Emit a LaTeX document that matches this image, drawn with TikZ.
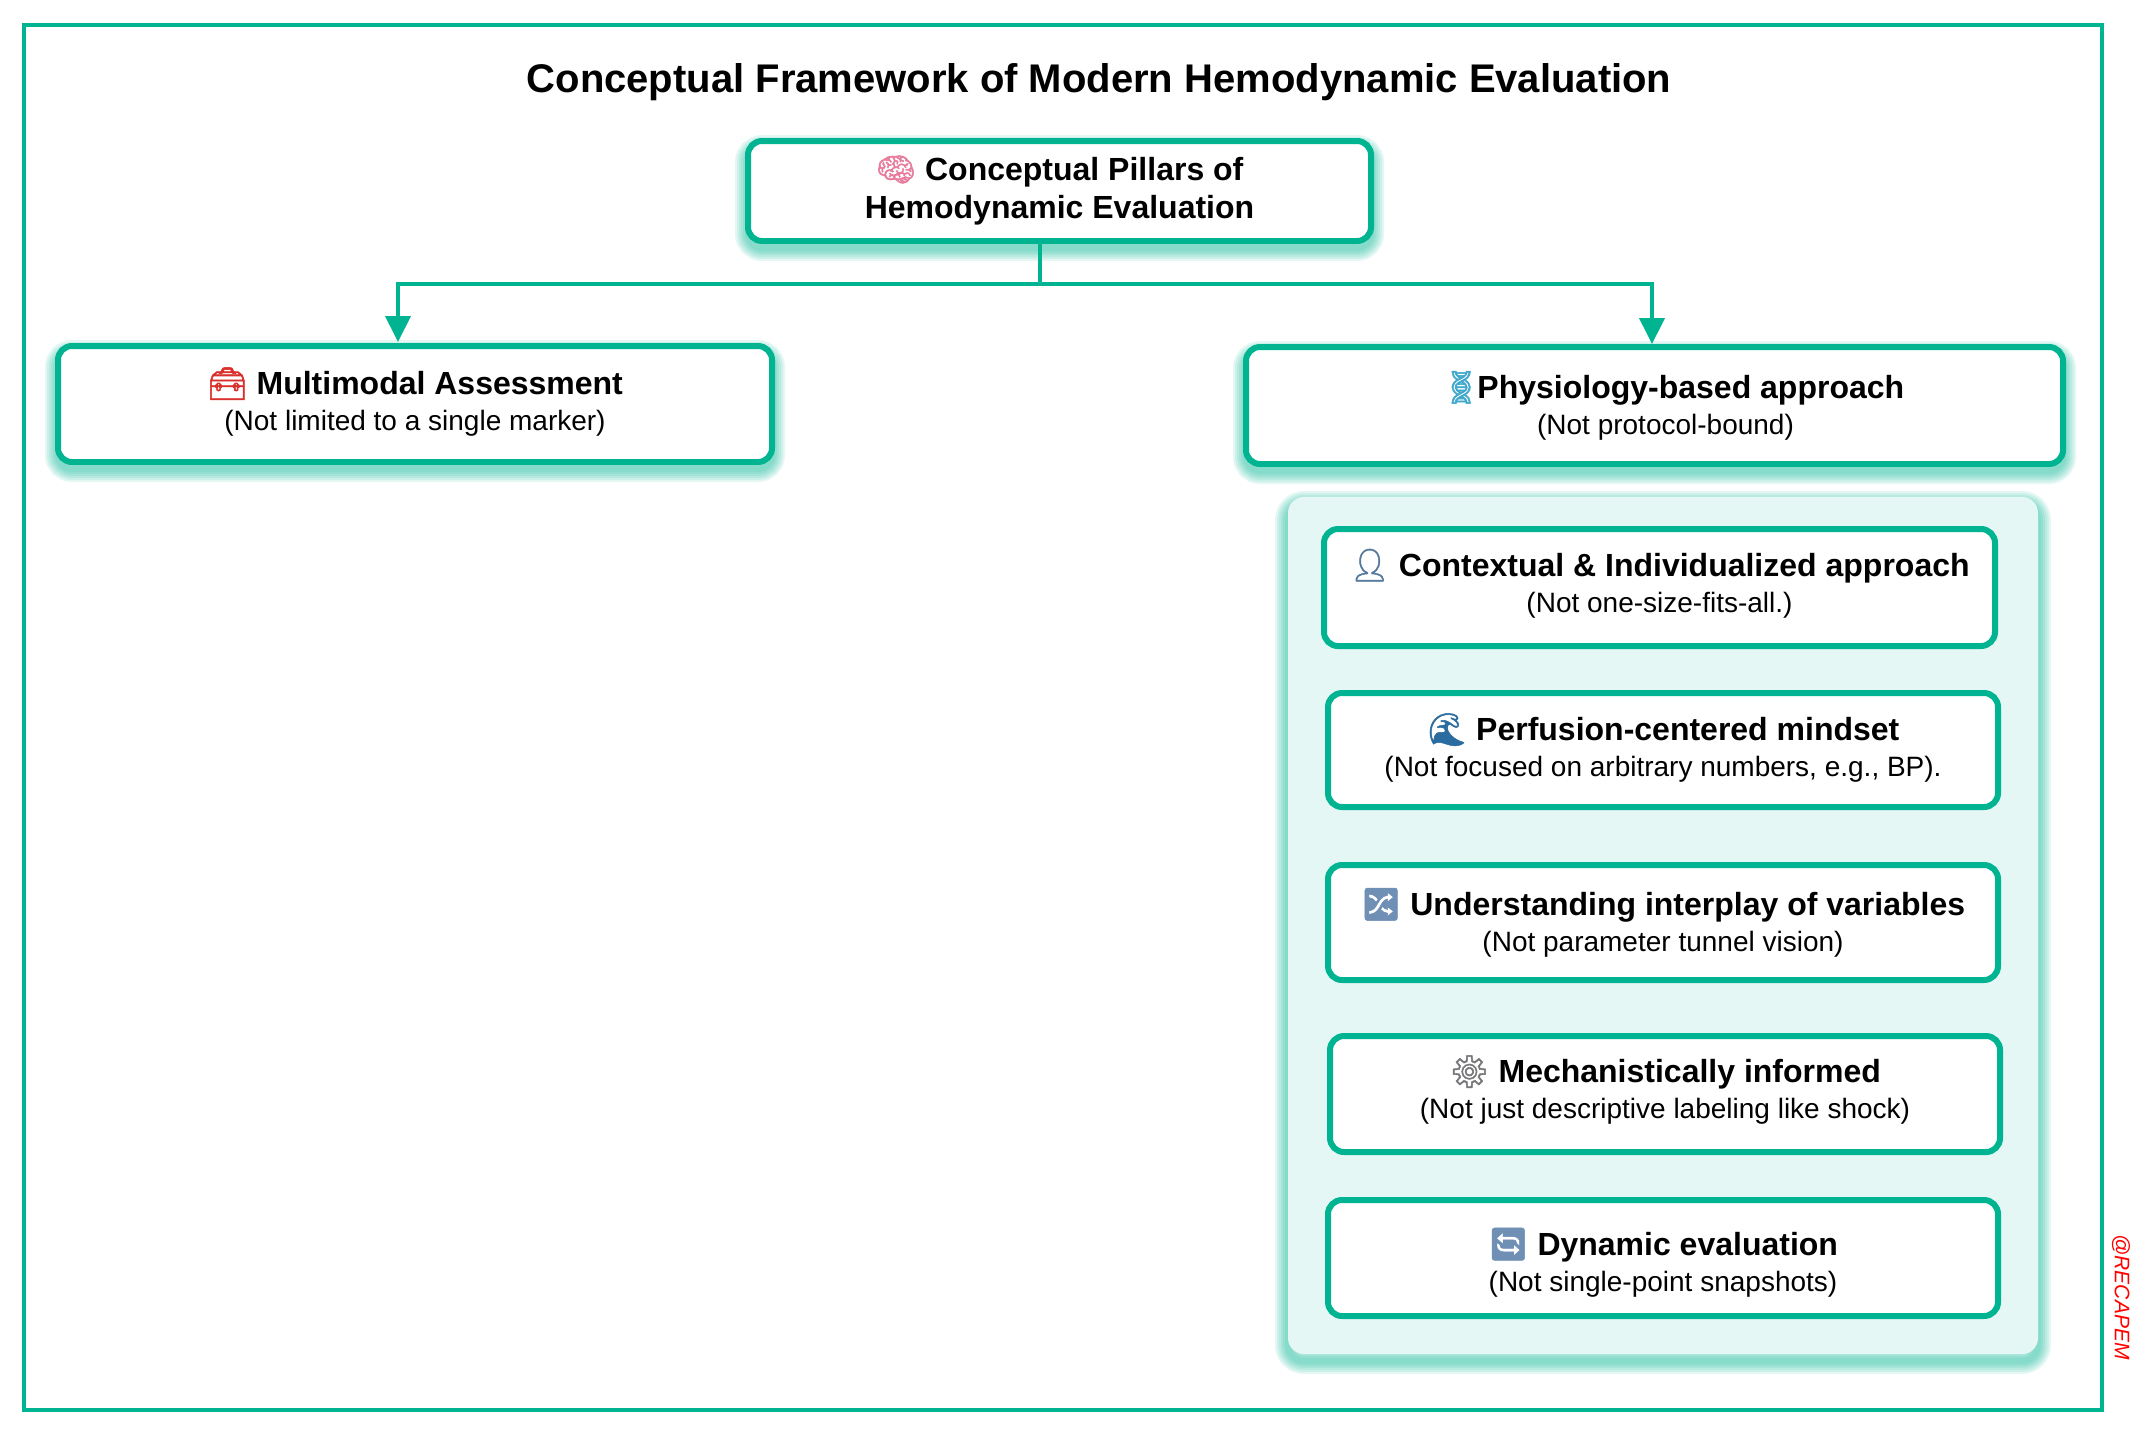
\documentclass[tikz,border=0pt]{standalone}
\usepackage{fontspec}
\setmainfont{Liberation Sans}
\newfontfamily\emojiFont[FakeBold=1.6]{Noto Emoji}
\usepackage{xcolor}
\usepackage{tikz}
\usetikzlibrary{arrows.meta}
\definecolor{recapGreen}{HTML}{00B391}
\definecolor{panelMint}{HTML}{E4F7F4}
\definecolor{brainPink}{HTML}{E87C9C}
\definecolor{toolRed}{HTML}{D9302C}
\definecolor{dnaCyan}{HTML}{3FA8CC}
\definecolor{personBlue}{HTML}{557A9E}
\definecolor{waveBlue}{HTML}{2A6C9F}
\definecolor{tileBlue}{HTML}{6F8FB5}
\definecolor{gearGray}{HTML}{77777A}
\newcommand{\emo}[2]{{\emojiFont\color{#1}#2}}
\newcommand{\head}[1]{{\fontsize{16}{18}\selectfont\bfseries #1}}
\tikzset{
  shadowLayer/.style={preaction={draw=recapGreen, draw opacity=.1, fill=none, line width=#1pt, transform canvas={yshift=-3.5pt}}},
  softShadow/.style={shadowLayer=13, shadowLayer=11, shadowLayer=9, shadowLayer=7, shadowLayer=5, shadowLayer=3},
  card/.style={draw=recapGreen, line width=3pt, fill=white, rounded corners=7pt, align=center, inner sep=0pt,
    font=\fontsize{14}{18}\selectfont},
  topcard/.style={card, softShadow},
  lift/.style={execute at end node={\rule[-#1]{0pt}{#1}}},
  link/.style={draw=recapGreen, line width=2pt},
  tip/.style={link, -{Triangle[width=12.5pt, length=13pt]}}
}
\begin{document}
\begin{tikzpicture}[x=0.5pt, y=-0.5pt]
  \useasboundingbox (0,0) rectangle (2146,1442);
  % Frame
  \draw[recapGreen, line width=2pt] (24,25) rectangle (2102,1410);
  % Title
  \node[font=\fontsize{20}{24}\selectfont\bfseries] (title) at (1099,82) {Conceptual Framework of Modern Hemodynamic Evaluation};
  % Panel behind the five cards
  \node[fill=panelMint, rounded corners=8pt, softShadow, minimum width=375pt, minimum height=428.5pt] (panel) at (1663,925.5) {};
  % Top card
  \node[topcard, lift=4pt, minimum width=311.5pt, minimum height=50pt] (pillars) at (1059.5,191)
    {\head{\emo{brainPink}{🧠} Conceptual Pillars of}\\[1pt]\head{Hemodynamic Evaluation}};
  % Two branches
  \node[topcard, lift=5pt, minimum width=357pt, minimum height=58pt] (multimodal) at (415,404)
    {\head{\emo{toolRed}{🧰} Multimodal Assessment}\\(Not limited to a single marker)};
  \node[topcard, minimum width=408.5pt, minimum height=58.5pt] (physiology) at (1654.5,405.5)
    {\hspace*{18pt}\head{\emo{dnaCyan}{🧬}\kern-2pt Physiology-based approach}\\\hspace*{11pt}(Not protocol-bound)};
  % Inner cards
  \node[card, lift=7pt, minimum width=335.5pt, minimum height=58.5pt] (contextual) at (1659.5,587.5)
    {\head{\emo{personBlue}{👤} Contextual \& Individualized approach}\\(Not one-size-fits-all.)};
  \node[card, lift=5pt, minimum width=335pt, minimum height=57pt] (perfusion) at (1663,750)
    {\head{\emo{waveBlue}{🌊} Perfusion-centered mindset}\\(Not focused on arbitrary numbers, e.g., BP).};
  \node[card, minimum width=335pt, minimum height=57.5pt] (interplay) at (1663,922.5)
    {\head{\emo{tileBlue}{🔀} Understanding interplay of variables}\\(Not parameter tunnel vision)};
  \node[card, lift=7pt, minimum width=335pt, minimum height=58pt] (mechanism) at (1665,1094)
    {\head{\emo{gearGray}{⚙} Mechanistically informed}\\(Not just descriptive labeling like shock)};
  \node[card, minimum width=335pt, minimum height=58pt] (dynamic) at (1663,1258)
    {\rule{0pt}{18pt}\head{\emo{tileBlue}{🔄} Dynamic evaluation}\\(Not single-point snapshots)};
  % Connectors
  \coordinate (split) at (1040,284);
  \coordinate (multimodalIn) at (398,342);
  \coordinate (physiologyIn) at (1652,344);
  \draw[link] (pillars.south -| split) -- (split);
  \draw[tip] (split) -| (multimodalIn);
  \draw[tip] (split) -| (physiologyIn);
  % Side mark
  \node[rotate=-90, text=red, font=\fontsize{10.5}{12}\selectfont\itshape] (mark) at (2121,1297) {@RECAPEM};
\end{tikzpicture}
\end{document}
